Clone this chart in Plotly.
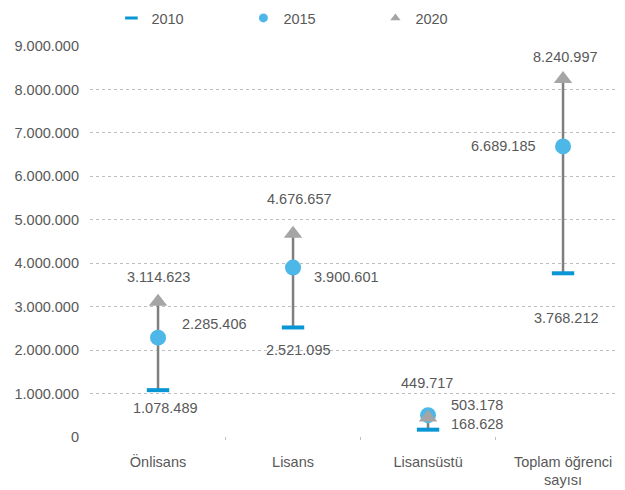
import plotly.graph_objects as go

categories = ["Önlisans", "Lisans", "Lisansüstü", "Toplam öğrenci<br>sayısı"]
v2010 = [1078489, 2521095, 168628, 3768212]
v2015 = [2285406, 3900601, 503178, 6689185]
v2020 = [3114623, 4676657, 449717, 8240997]
yticks = list(range(0, 9000001, 1000000))

def fmt(v):
    return f"{v:,}".replace(",", ".")

FONT = "Liberation Sans, Arial"
TXT = "#595959"
C2010 = "#0A96D4"
C2015 = "#4DB8E8"
C2020 = "#A5A5A5"

fig = go.Figure()

# connecting vertical lines
lx, ly = [], []
for c, a, b, d in zip(categories, v2010, v2015, v2020):
    lx += [c, c, None]
    ly += [min(a, b, d), max(a, b, d), None]
fig.add_trace(go.Scatter(x=lx, y=ly, mode="lines", line=dict(color="#7F7F7F", width=2.5),
                         showlegend=False, hoverinfo="skip"))

fig.add_trace(go.Scatter(x=categories, y=v2010, mode="markers", name="2010", showlegend=False,
                         marker=dict(symbol="line-ew", size=16, color=C2010,
                                     line=dict(color=C2010, width=4))))
fig.add_trace(go.Scatter(x=categories, y=v2015, mode="markers", name="2015", showlegend=False,
                         marker=dict(symbol="circle", size=16, color=C2015)))
fig.add_trace(go.Scatter(x=categories, y=v2020, mode="markers", name="2020", showlegend=False,
                         marker=dict(symbol="triangle-up", size=16, color=C2020)))

# legend entries (smaller symbols)
fig.add_trace(go.Scatter(x=[None], y=[None], mode="markers", name="2010",
                         marker=dict(symbol="line-ew", size=9, color=C2010,
                                     line=dict(color=C2010, width=3))))
fig.add_trace(go.Scatter(x=[None], y=[None], mode="markers", name="2015",
                         marker=dict(symbol="circle", size=9, color=C2015)))
fig.add_trace(go.Scatter(x=[None], y=[None], mode="markers", name="2020",
                         marker=dict(symbol="triangle-up", size=9, color=C2020)))

# label offsets (pixels) per series
off2010 = [(7, -18), (5, -23), (49, 6), (3, -45)]
off2015 = [(56, 14), (53, -9), (49, 10), (-60, 0)]
off2020 = [(0, 25), (6, 35), (-1, 34), (2, 22)]

for vals, offs in ((v2010, off2010), (v2015, off2015), (v2020, off2020)):
    for c, v, (dx, dy) in zip(categories, vals, offs):
        fig.add_annotation(x=c, y=v, text=fmt(v), showarrow=False, xshift=dx, yshift=dy,
                           font=dict(family=FONT, size=14.5, color=TXT))

# page body has an 8px margin: size the figure so the plot lands where the reference has it
fig.update_layout(
    width=617, height=482,
    margin=dict(l=82, r=0, t=38, b=53),
    paper_bgcolor="white", plot_bgcolor="white",
    separators=",.",
    font=dict(family=FONT, size=14.5, color=TXT),
    legend=dict(orientation="h", x=0.04, xref="paper", y=1 - 10 / 482, yref="container",
                yanchor="middle", xanchor="left",
                entrywidth=87, entrywidthmode="pixels", font=dict(size=14.5, color=TXT),
                itemsizing="trace", itemwidth=30),
    xaxis=dict(showgrid=False, showline=False, ticks="", tickfont=dict(size=14.5, color=TXT),
               range=[-0.504, 3.459], zeroline=False, automargin=False,
               ticklabelstandoff=14),
    yaxis=dict(range=[0, 9000000], tickvals=yticks, tickformat=",d",
               showgrid=True, gridcolor="#BFBFBF", griddash="dot", gridwidth=1,
               zeroline=False, showline=False, ticks="", ticklabelstandoff=10,
               automargin=False, tickfont=dict(size=14.5, color=TXT)),
)

# category boundary tick marks on x axis
for i in range(1, 4):
    fig.add_shape(type="line", xref="x", yref="paper", x0=i - 0.5, x1=i - 0.5, y0=0, y1=-0.012,
                  line=dict(color="#BFBFBF", width=1, dash="dot"))

fig.write_html("out.html")
